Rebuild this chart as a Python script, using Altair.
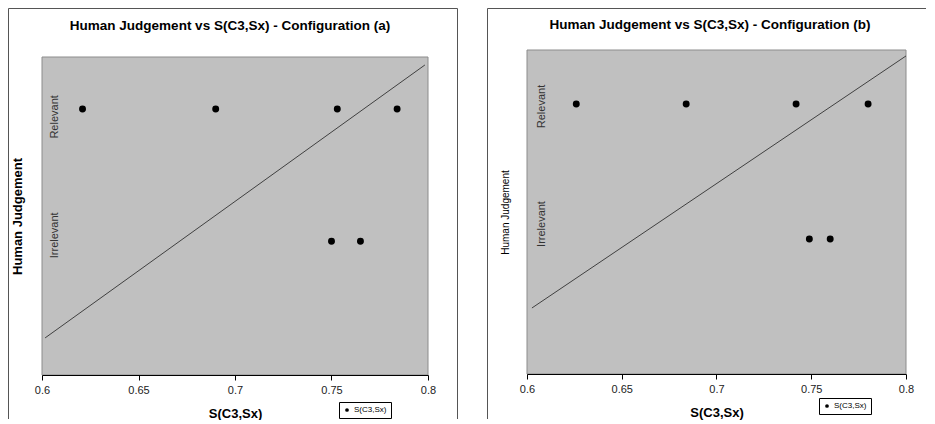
import altair as alt
import pandas as pd

FONT = "Liberation Sans"

# ---------------- data ----------------
series_name = "S(C3,Sx)"
x_ticks = [0.6, 0.65, 0.7, 0.75, 0.8]
judgement_labels = ["Irrelevant", "Relevant"]
judgement_values = [0, 1]

# Configuration (a)
a_relevant_x = [0.621, 0.690, 0.753, 0.784]
a_irrelevant_x = [0.750, 0.765]
a_trend_x = [0.6016, 0.7984]
a_trend_y = [-0.730, 1.332]

# Configuration (b)
b_relevant_x = [0.626, 0.684, 0.742, 0.780]
b_irrelevant_x = [0.749, 0.760]
b_trend_x = [0.6026, 0.8]
b_trend_y = [-0.511, 1.356]

titles = ["Human Judgement vs S(C3,Sx) - Configuration (a)",
          "Human Judgement vs S(C3,Sx) - Configuration (b)"]
x_title = "S(C3,Sx)"
y_title = "Human Judgement"


def panel(rel_x, irr_x, trend_x, trend_y, title, w, h, gray_top, y_dom,
          title_x, title_y, yt_size, yt_weight, yt_x, yt_y,
          leg_x, leg_y, lab_x, rel_off, irr_off, frame):
    pts = pd.DataFrame({
        "x": rel_x + irr_x,
        "y": [judgement_values[1]] * len(rel_x) + [judgement_values[0]] * len(irr_x),
        "series": series_name,
    })
    trend = pd.DataFrame({"x": trend_x, "y": trend_y})
    labels = pd.DataFrame({"y": judgement_values, "label": judgement_labels})
    one = pd.DataFrame({"k": [0]})

    xscale = alt.Scale(domain=[0.6, 0.8], nice=False, zero=False)
    yscale = alt.Scale(domain=y_dom, nice=False, zero=False)
    xaxis = alt.Axis(values=x_ticks, format="~g", title=x_title, grid=False,
                     domainColor="black", domainWidth=1, tickColor="black",
                     tickSize=5, labelFontSize=11, labelColor="#222222",
                     labelFont=FONT, labelPadding=4, labelFlush=False,
                     titleFont=FONT, titleFontSize=13, titleFontWeight="bold",
                     titleColor="black", titleY=38, titleBaseline="middle",
                     zindex=1)
    yaxis = alt.Axis(title=y_title, labels=False, ticks=False, domain=False,
                     grid=False, titleX=yt_x, titleY=yt_y, titleAngle=270,
                     titleAlign="center", titleBaseline="middle",
                     titleFont=FONT, titleFontSize=yt_size,
                     titleFontWeight=yt_weight, titleColor="black")

    layers = []
    # panel frame lines
    for (x1, y1, x2, y2) in frame:
        if x1 == x2:
            enc = dict(x=alt.value(x1), y=alt.value(y1), y2=alt.value(y2))
        else:
            enc = dict(x=alt.value(x1), x2=alt.value(x2), y=alt.value(y1))
        layers.append(alt.Chart(one).mark_rule(color="#555555", strokeWidth=1).encode(**enc))

    # gray plot area
    layers.append(alt.Chart(one).mark_rect(fill="#c0c0c0", stroke="#8c8c8c", strokeWidth=1).encode(
        x=alt.value(0), x2=alt.value(w), y=alt.value(gray_top), y2=alt.value(h)))

    # chart title
    layers.append(alt.Chart(one).mark_text(
        text=title, font=FONT, fontSize=13.5, fontWeight="bold", color="black",
        align="center", baseline="middle").encode(
        x=alt.value(title_x), y=alt.value(title_y)))

    # trend line
    layers.append(alt.Chart(trend).mark_line(color="#404040", strokeWidth=1).encode(
        x=alt.X("x:Q", scale=xscale, axis=xaxis),
        y=alt.Y("y:Q", scale=yscale, axis=yaxis)))

    # points
    layers.append(alt.Chart(pts).mark_circle(size=48, opacity=1).encode(
        x=alt.X("x:Q", scale=xscale, axis=xaxis),
        y=alt.Y("y:Q", scale=yscale, axis=yaxis),
        color=alt.Color("series:N", scale=alt.Scale(range=["black"]),
                        legend=alt.Legend(title=None, orient="none",
                                          legendX=leg_x, legendY=leg_y,
                                          strokeColor="black", fillColor="white",
                                          padding=4, labelFontSize=8,
                                          labelFont=FONT, labelColor="black",
                                          symbolSize=14, symbolType="circle",
                                          symbolStrokeWidth=0, labelOffset=3))))

    # rotated category labels
    for val, lab, off in [(judgement_values[1], judgement_labels[1], rel_off),
                          (judgement_values[0], judgement_labels[0], irr_off)]:
        layers.append(alt.Chart(labels).transform_filter(alt.datum.label == lab).mark_text(
            angle=270, font=FONT, fontSize=11, color="#333333",
            align="center", baseline="middle").encode(
            x=alt.value(lab_x),
            y=alt.Y("y:Q", scale=yscale, axis=yaxis),
            yOffset=alt.value(off),
            text="label:N"))

    return alt.layer(*layers).properties(width=w, height=h)


pa = panel(a_relevant_x, a_irrelevant_x, a_trend_x, a_trend_y, titles[0],
           w=386, h=325, gray_top=7, y_dom=[-1.01, 1.445],
           title_x=188, title_y=-24, yt_size=13, yt_weight="bold", yt_x=-25, yt_y=166,
           leg_x=297, leg_y=352, lab_x=13, rel_off=8, irr_off=-6,
           frame=[(-33.5, -41.5, -33.5, 369), (-33.5, -41.5, 415.5, -41.5),
                  (415.5, -41.5, 415.5, 369)])

pb = panel(b_relevant_x, b_irrelevant_x, b_trend_x, b_trend_y, titles[1],
           w=379, h=324, gray_top=0, y_dom=[-1.0, 1.4],
           title_x=183, title_y=-25, yt_size=10, yt_weight="normal", yt_x=-22, yt_y=162,
           leg_x=292, leg_y=348, lab_x=15, rel_off=2.5, irr_off=-15,
           frame=[(-39.5, -41.5, -39.5, 369), (-39.5, -41.5, 399, -41.5)])

chart = alt.hconcat(pa, pb, spacing=99, bounds="flush").resolve_scale(
    color="independent", x="independent", y="independent"
).properties(padding=0).configure(font=FONT).configure_view(
    strokeWidth=0, stroke="transparent")

chart.save("out.html", embed_options={"renderer": "svg", "actions": False})
